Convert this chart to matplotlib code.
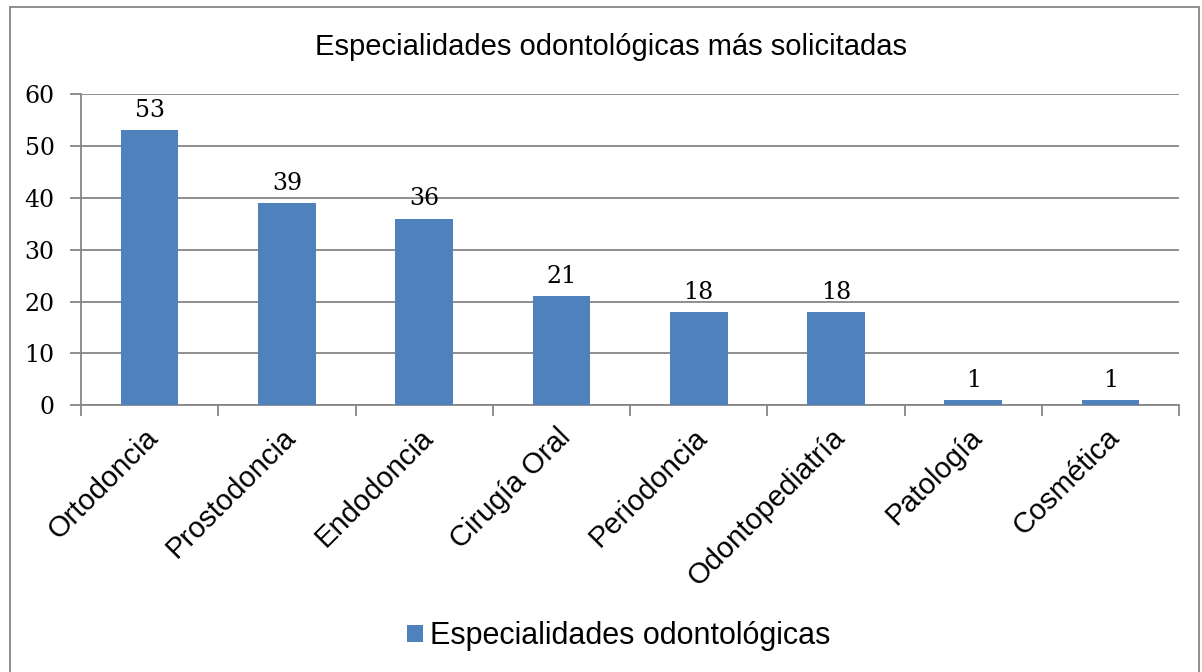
import matplotlib.pyplot as plt
from matplotlib.patches import Rectangle
import numpy as np

categorias = ["Ortodoncia", "Prostodoncia", "Endodoncia", "Cirugía Oral",
              "Periodoncia", "Odontopediatría", "Patología", "Cosmética"]
valores = [53, 39, 36, 21, 18, 18, 1, 1]
serie = "Especialidades odontológicas"
titulo = "Especialidades odontológicas más solicitadas"

azul = "#4F81BD"
gris = "#868686"

fig = plt.figure(figsize=(12.02, 6.72), dpi=100)
ax = fig.add_axes([0.0674, 0.397, 0.9136, 0.463])

x = np.arange(len(categorias))
bars = ax.bar(x, valores, width=0.42, color=azul, label=serie, zorder=3)

for xi, v in zip(x, valores):
    ax.annotate(str(v), (xi, v), xytext=(0, 6), textcoords="offset points",
                ha="center", va="bottom", fontsize=17, family="DejaVu Serif")

ax.set_xlim(-0.5, len(categorias) - 0.5)
ax.set_ylim(0, 60)
ax.set_yticks(range(0, 61, 10))
ax.set_yticklabels([str(t) for t in range(0, 61, 10)], family="DejaVu Serif", fontsize=17)
ax.grid(axis="y", color=gris, linewidth=1.3, zorder=0)

# category ticks sit on the boundaries between bars
ax.set_xticks(np.arange(len(categorias) + 1) - 0.5)
ax.set_xticklabels([])
ax.tick_params(axis="x", length=8, color=gris, width=1.3)
ax.tick_params(axis="y", length=8, color=gris, width=1.3, pad=11)
for xi, c in zip(x, categorias):
    ax.text(xi - 0.04, -3.5, c, rotation=45, ha="right", va="top",
            rotation_mode="anchor", fontsize=21, family="Liberation Sans")

for s in ["top", "right"]:
    ax.spines[s].set_visible(False)
for s in ["left", "bottom"]:
    ax.spines[s].set_color(gris)
    ax.spines[s].set_linewidth(1.3)

fig.text(0.508, 0.93, titulo, ha="center", va="center", fontsize=21,
         family="Liberation Sans")

leg = fig.legend(handles=[bars], labels=[serie], loc="center",
                 bbox_to_anchor=(0.515, 0.053), frameon=False,
                 prop={"family": "Liberation Sans", "size": 22},
                 handlelength=0.5, handleheight=0.5, handletextpad=0.25)

fig.patches.append(Rectangle((10 / 1202, -0.01), 1189 / 1202, 1 - 7 / 672 + 0.01,
                             transform=fig.transFigure, fill=False,
                             edgecolor=gris, linewidth=1.3))

fig.savefig("out.png", dpi=100)
